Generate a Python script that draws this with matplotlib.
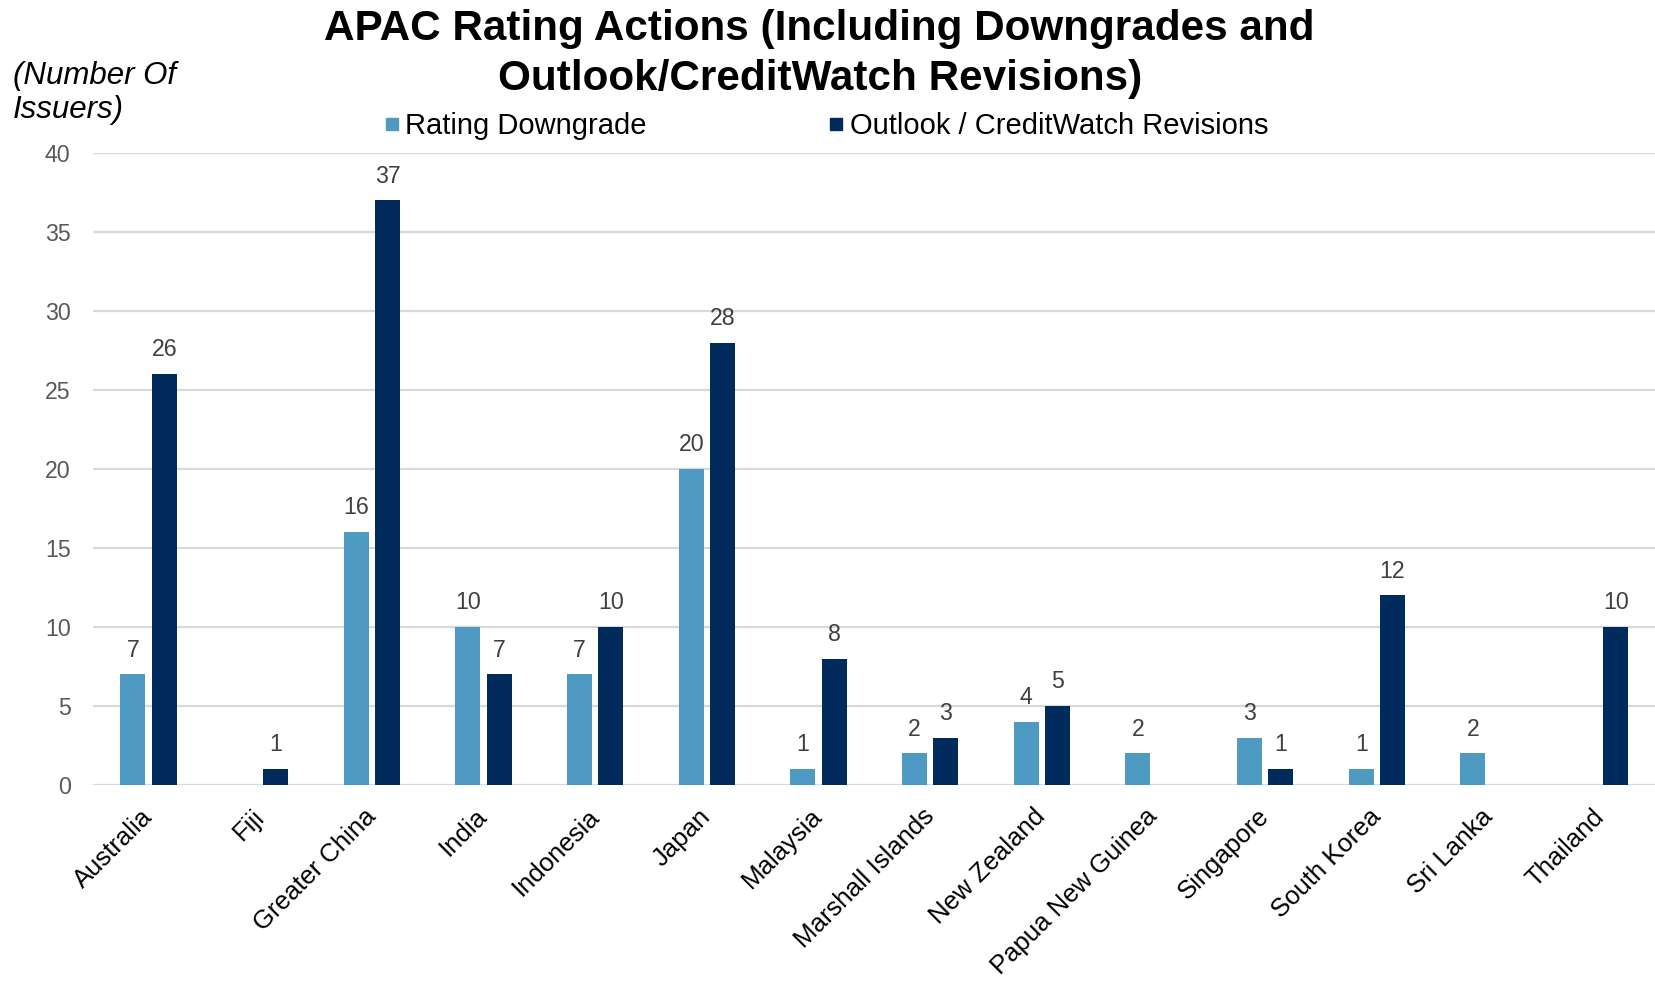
import numpy as np
import matplotlib.pyplot as plt
from matplotlib.lines import Line2D

plt.rcParams['font.family'] = ['Liberation Sans', 'DejaVu Sans']

# Rating actions by market
countries = ['Australia', 'Fiji', 'Greater China', 'India', 'Indonesia', 'Japan',
             'Malaysia', 'Marshall Islands', 'New Zealand', 'Papua New Guinea',
             'Singapore', 'South Korea', 'Sri Lanka', 'Thailand']
downgrades = [7, 0, 16, 10, 7, 20, 1, 2, 4, 2, 3, 1, 2, 0]
outlook_revisions = [26, 1, 37, 7, 10, 28, 8, 3, 5, 0, 1, 12, 0, 10]
series_names = ['Rating Downgrade', 'Outlook / CreditWatch Revisions']
colors = ['#4F9AC3', '#002B5C']

fig = plt.figure(figsize=(16.56, 9.82), dpi=100)
ax = fig.add_axes([0.056, 0.2006, 0.944, 0.6436])

x = np.arange(len(countries))
w = 0.225
off = 0.14
for vals, dx, c in [(downgrades, -off, colors[0]), (outlook_revisions, off, colors[1])]:
    ax.bar(x + dx, vals, width=w, color=c, zorder=3)
    for xi, v in zip(x, vals):
        if v == 0:
            continue
        ax.annotate(str(v), (xi + dx, v), xytext=(0, 12.8), textcoords='offset points',
                    ha='center', va='baseline', fontsize=16.7, color='#404040')

ax.set_xlim(-0.5, 13.5)
ax.set_ylim(0, 40)
ax.set_yticks(range(0, 41, 5))
ax.yaxis.grid(True, color='#D9D9D9', linewidth=1.6, zorder=0)
ax.set_axisbelow(True)
for s in ax.spines.values():
    s.set_visible(False)
ax.tick_params(axis='both', length=0)
ax.tick_params(axis='y', labelsize=16.7, labelcolor='#595959', pad=16)
ax.set_xticks(x)
ax.set_xticklabels(countries, rotation=45, ha='right', va='center',
                   rotation_mode='anchor', fontsize=18.5, color='black')
ax.tick_params(axis='x', pad=20)

# two-line title
fig.text(0.495, 1 - 40 / 982, 'APAC Rating Actions (Including Downgrades and',
         ha='center', va='baseline', fontsize=30.4, fontweight='bold')
fig.text(0.495, 1 - 90 / 982, 'Outlook/CreditWatch Revisions)',
         ha='center', va='baseline', fontsize=30.4, fontweight='bold')
fig.text(0.008, 1 - 118 / 982, '(Number Of\nIssuers)', ha='left', va='baseline',
         fontsize=22.5, style='italic', linespacing=1.19)

handles = [Line2D([], [], marker='s', linestyle='none', markersize=9.2,
                  markerfacecolor=c, markeredgecolor=c) for c in colors]
fig.legend(handles, series_names, ncol=2, loc='center left',
           bbox_to_anchor=(0.2228, 0.8717), frameon=False, fontsize=21, borderpad=0,
           handlelength=0.6, handletextpad=0.15, columnspacing=6.2)

fig.savefig('out.png', dpi=100)
